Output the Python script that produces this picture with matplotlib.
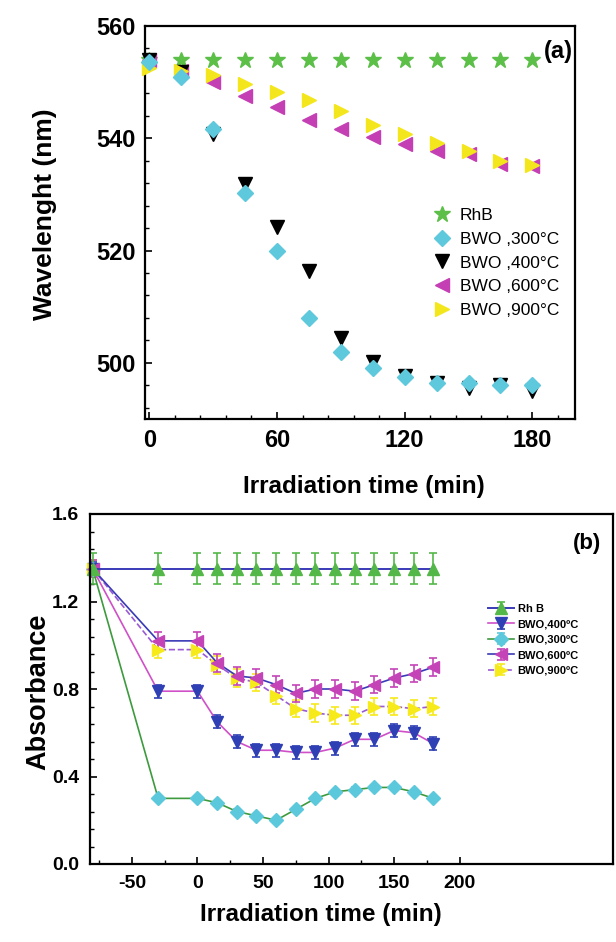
import matplotlib
matplotlib.use("Agg")
import matplotlib.pyplot as plt
from matplotlib.ticker import MultipleLocator, FixedLocator

plt.rcParams['font.family'] = ['Liberation Sans', 'DejaVu Sans']
plt.rcParams['font.weight'] = 'bold'
plt.rcParams['axes.unicode_minus'] = False

# ---------------- Panel (a) data ----------------
time_a = [0, 15, 30, 45, 60, 75, 90, 105, 120, 135, 150, 165, 180]
rhb_a = [554, 554, 554, 554, 554, 554, 554, 554, 554, 554, 554, 554, 554]
bwo300_a = [553.5, 551, 541.7, 530.3, 520, 508, 502, 499, 497.5, 496.5, 496.5, 496, 496]
bwo400_a = [554, 551.8, 540.8, 531.8, 524.2, 516.3, 504.5, 500.2, 497.6, 496.5, 495.5, 496, 495]
bwo600_a = [554, 552, 550, 547.6, 545.6, 543.3, 541.6, 540.2, 539, 537.8, 537.2, 535.5, 535]
bwo900_a = [552.5, 552, 551.2, 549.7, 548.2, 546.9, 544.8, 542.4, 540.8, 539.2, 537.8, 536, 535.3]
labels_a = ["RhB", "BWO ,300°C", "BWO ,400°C", "BWO ,600°C", "BWO ,900°C"]

# ---------------- Panel (b) data ----------------
time_b = [-80, -30, 0, 15, 30, 45, 60, 75, 90, 105, 120, 135, 150, 165, 180]
rhb_b = [1.35] * 15
rhb_err = [0.07] * 15
bwo400_b = [1.35, 0.79, 0.79, 0.65, 0.56, 0.52, 0.52, 0.51, 0.51, 0.53, 0.57, 0.57, 0.61, 0.60, 0.55]
bwo400_err = [0.03] * 15
bwo300_b = [1.35, 0.30, 0.30, 0.28, 0.24, 0.22, 0.20, 0.25, 0.30, 0.33, 0.34, 0.35, 0.35, 0.33, 0.30]
bwo300_err = [0.01] * 15
bwo600_b = [1.35, 1.02, 1.02, 0.92, 0.86, 0.85, 0.82, 0.78, 0.80, 0.80, 0.79, 0.82, 0.85, 0.87, 0.90]
bwo600_err = [0.04] * 15
bwo900_b = [1.35, 0.98, 0.98, 0.91, 0.85, 0.83, 0.77, 0.71, 0.69, 0.68, 0.68, 0.72, 0.72, 0.71, 0.72]
bwo900_err = [0.04] * 15
labels_b = ["Rh B", "BWO,400ºC", "BWO,300ºC", "BWO,600ºC", "BWO,900ºC"]

W, H = 616, 942
fig = plt.figure(figsize=(W / 100, H / 100), dpi=100)


def px_axes(l, t, r, b):
    return fig.add_axes([l / W, 1 - b / H, (r - l) / W, (b - t) / H])


def ftext(x, y, s, **kw):
    fig.text(x / W, 1 - y / H, s, ha='center', va='center', fontweight='bold', **kw)


# ================= Panel (a) =================
ax1 = px_axes(145, 26, 575, 419)
green = "#5bbf48"
cyan = "#5ec8dc"
mag = "#c43fb4"
yel = "#f4e61c"
ms = 10
ax1.plot(time_a, rhb_a, ls='none', marker='*', ms=ms + 2, color=green, label=labels_a[0], clip_on=False, zorder=3)
ax1.plot(time_a, bwo600_a, ls='none', marker='<', ms=ms, color=mag, label=labels_a[3], clip_on=False, zorder=3)
ax1.plot(time_a, bwo900_a, ls='none', marker='>', ms=ms, color=yel, label=labels_a[4], clip_on=False, zorder=4)
ax1.plot(time_a, bwo400_a, ls='none', marker='v', ms=ms, color='black', label=labels_a[2], clip_on=False, zorder=3)
ax1.plot(time_a, bwo300_a, ls='none', marker='D', ms=ms - 2, color=cyan, label=labels_a[1], clip_on=False, zorder=4)

ax1.set_xlim(-2, 200)
ax1.set_ylim(490, 560)
ax1.xaxis.set_major_locator(FixedLocator([0, 60, 120, 180]))
ax1.xaxis.set_minor_locator(MultipleLocator(12))
ax1.yaxis.set_major_locator(FixedLocator([500, 520, 540, 560]))
ax1.yaxis.set_minor_locator(MultipleLocator(4))
ax1.tick_params(which='both', direction='in', top=False, right=False)
ax1.tick_params(which='major', length=5, width=1.2, labelsize=17, pad=7)
ax1.tick_params(which='minor', length=3, width=1.0)
for s in ax1.spines.values():
    s.set_linewidth(1.6)
ftext(364, 486, "Irradiation time (min)", fontsize=17.5)
ftext(45, 214, "Wavelenght (nm)", fontsize=19, rotation=90)
ax1.text(0.995, 0.965, "(a)", transform=ax1.transAxes, ha='right', va='top', fontsize=17, fontweight='bold')

h, l = ax1.get_legend_handles_labels()
order = [0, 4, 3, 1, 2]
leg1 = ax1.legend([h[i] for i in order], [l[i] for i in order], loc='upper left',
                  bbox_to_anchor=(424 / W, 1 - 199 / H), bbox_transform=fig.transFigure,
                  frameon=False, fontsize=12.5, handletextpad=0.45, labelspacing=0.5,
                  handlelength=1.1, borderpad=0)
for t in leg1.get_texts():
    t.set_fontweight('normal')

# ================= Panel (b) =================
ax2 = px_axes(90, 514, 613, 864)
c_green = "#54b848"
c_blue = "#2f3fb4"
c_cyan = "#5cc8dc"
c_mag = "#c444b8"
c_yel = "#f6ea1a"
ln_blue = "#3a3ab8"
ln_mag = "#d050c8"
ln_green = "#3e9a3e"
ln_purple = "#9a5ad6"
msb = 8
ekw = dict(capsize=3, elinewidth=1.2, capthick=1.2)

ax2.errorbar(time_b, bwo300_b, yerr=bwo300_err, color=ln_green, lw=1.2, marker='D', ms=msb - 1,
             mfc=c_cyan, mec=c_cyan, ecolor=c_cyan, label=labels_b[2], clip_on=False, **ekw)
ax2.errorbar(time_b, bwo400_b, yerr=bwo400_err, color=ln_mag, lw=1.2, marker='v', ms=msb,
             mfc=c_blue, mec=c_blue, ecolor=c_blue, label=labels_b[1], clip_on=False, **ekw)
ax2.errorbar(time_b, bwo900_b, yerr=bwo900_err, color=ln_purple, lw=1.2, ls='--', marker='>', ms=msb,
             mfc=c_yel, mec=c_yel, ecolor=c_yel, label=labels_b[4], clip_on=False, **ekw)
ax2.errorbar(time_b, bwo600_b, yerr=bwo600_err, color=ln_blue, lw=1.2, marker='<', ms=msb,
             mfc=c_mag, mec=c_mag, ecolor=c_mag, label=labels_b[3], clip_on=False, **ekw)
ax2.errorbar(time_b, rhb_b, yerr=rhb_err, color=ln_blue, lw=1.4, marker='^', ms=msb,
             mfc=c_green, mec=c_green, ecolor=c_green, label=labels_b[0], clip_on=False, **ekw)

ax2.set_xlim(-82, 317)
ax2.set_ylim(0, 1.6)
ax2.xaxis.set_major_locator(FixedLocator([-50, 0, 50, 100, 150, 200]))
ax2.xaxis.set_minor_locator(FixedLocator([-75, -25, 25, 75, 125, 175]))
ax2.yaxis.set_major_locator(FixedLocator([0.0, 0.4, 0.8, 1.2, 1.6]))
ax2.yaxis.set_minor_locator(MultipleLocator(0.08))
ax2.set_yticklabels(["0.0", "0.4", "0.8", "1.2", "1.6"])
ax2.tick_params(which='both', direction='in', top=False, right=False)
ax2.tick_params(which='major', length=5, width=1.2, labelsize=14, pad=8)
ax2.tick_params(which='minor', length=3, width=1.0)
for t in ax2.get_xticklabels():
    t.set_family(['Liberation Sans Narrow', 'Liberation Sans'])
for s in ax2.spines.values():
    s.set_linewidth(1.6)
ftext(321, 915, "Irradiation time (min)", fontsize=17.5)
ftext(38, 692, "Absorbance", fontsize=19.5, rotation=90)
ax2.text(0.978, 0.945, "(b)", transform=ax2.transAxes, ha='right', va='top', fontsize=16, fontweight='bold')

hb, lb = ax2.get_legend_handles_labels()
ob = [4, 1, 0, 3, 2]
leg2 = ax2.legend([hb[i] for i in ob], [lb[i] for i in ob], loc='upper left',
                  bbox_to_anchor=(482 / W, 1 - 598 / H), bbox_transform=fig.transFigure,
                  frameon=False, fontsize=8, handletextpad=0.3, labelspacing=0.5,
                  handlelength=2.4, borderpad=0)

fig.savefig("out.png", dpi=100)
